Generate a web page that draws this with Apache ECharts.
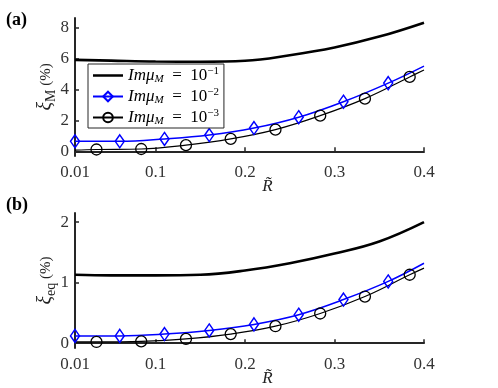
<!DOCTYPE html>
<html>
<head>
<meta charset="utf-8">
<script src="https://cdn.jsdelivr.net/npm/echarts@6/dist/echarts.min.js"></script>
<style>
  html, body { margin: 0; padding: 0; background: #fff; }
  #chart { width: 498px; height: 388px; }
</style>
</head>
<body>
<div id="chart"></div>
<script>
// x ticks shared by both panels
const xTicks = [0.01, 0.1, 0.2, 0.3, 0.4];
const yTicksA = [0, 2, 4, 6, 8];
const yTicksB = [0, 1, 2];

// thick black curve (Im mu = 1e-1), no markers
const thickX = [0.01, 0.05, 0.1, 0.15, 0.2, 0.25, 0.3, 0.35, 0.4];
const thickA = [5.9, 5.85, 5.79, 5.78, 5.84, 6.2, 6.7, 7.4, 8.3];
const thickB = [1.13, 1.12, 1.12, 1.13, 1.2, 1.32, 1.48, 1.68, 2.0];

// blue curve (Im mu = 1e-2), diamonds at these x
const blueX = [0.01, 0.06, 0.11, 0.16, 0.21, 0.26, 0.31, 0.36];
const blueA = [0.65, 0.65, 0.8, 1.05, 1.5, 2.2, 3.2, 4.4];
const blueB = [0.12, 0.12, 0.15, 0.21, 0.31, 0.47, 0.72, 1.02];
const blueEndA = 5.5;
const blueEndB = 1.32;

// thin black curve (Im mu = 1e-3), circles at these x
const circX = [0.034, 0.084, 0.134, 0.184, 0.234, 0.284, 0.334, 0.384];
const circA = [0.12, 0.15, 0.4, 0.8, 1.4, 2.3, 3.4, 4.8];
const circB = [0.02, 0.03, 0.07, 0.15, 0.28, 0.49, 0.77, 1.13];
const circStartA = 0.08, circEndA = 5.25;
const circStartB = 0.02, circEndB = 1.24;

const names = ['a', 'b', 'c'];
const serif = 'Liberation Serif';
const axisColor = '#262626';

function plain(xs, ys) {
    return xs.map((x, i) => [x, ys[i]]);
}
function withMarkers(xs, ys, start, end) {
    const d = [];
    if (start !== null) d.push({ value: [0.01, start], symbol: 'none' });
    xs.forEach((x, i) => d.push([x, ys[i]]));
    d.push({ value: [0.4, end], symbol: 'none' });
    return d;
}

function xAxis(idx) {
    return {
        type: 'value', gridIndex: idx, min: 0.01, max: 0.4,
        name: 'R\u0303', nameLocation: 'middle', nameGap: 22, nameMoveOverlap: false,
        nameTextStyle: { fontFamily: serif, fontStyle: 'italic', fontSize: 17, color: '#222', padding: [0, 0, 0, 36] },
        axisLine: { lineStyle: { color: axisColor, width: 2 } },
        axisTick: { inside: true, length: 4, customValues: xTicks, lineStyle: { color: axisColor, width: 1.5 } },
        axisLabel: { customValues: xTicks, fontFamily: serif, fontSize: 17, color: '#333', margin: 8 },
        splitLine: { show: false }
    };
}
function yAxis(idx, min, max, ticks, sub) {
    return {
        type: 'value', gridIndex: idx, min: min, max: max,
        name: '{xi|\u03be}{sub|' + sub + '}{n| (%)}', nameLocation: 'middle', nameRotate: 90,
        nameGap: 17, nameMoveOverlap: false,
        nameTextStyle: {
            color: '#222',
            rich: {
                xi: { fontFamily: serif, fontStyle: 'italic', fontSize: 20, lineHeight: 24, verticalAlign: 'middle', color: '#222' },
                sub: { fontFamily: serif, fontSize: 14, lineHeight: 12, verticalAlign: 'bottom', color: '#222' },
                n: { fontFamily: serif, fontSize: 15, lineHeight: 24, verticalAlign: 'middle', color: '#222' }
            }
        },
        axisLine: { lineStyle: { color: axisColor, width: 2 } },
        axisTick: { inside: true, length: 4, customValues: ticks, lineStyle: { color: axisColor, width: 1.5 } },
        axisLabel: { customValues: ticks, fontFamily: serif, fontSize: 17, color: '#333', margin: 6 },
        splitLine: { show: false }
    };
}

function seriesFor(idx, thick, blue, blueEnd, circ, circStart, circEnd) {
    return [
        {
            name: names[0], type: 'line', xAxisIndex: idx, yAxisIndex: idx, smooth: 0.4,
            symbol: 'none', data: plain(thickX, thick),
            lineStyle: { color: '#000', width: 2.6 }, itemStyle: { color: '#000' }
        },
        {
            name: names[1], type: 'line', xAxisIndex: idx, yAxisIndex: idx, smooth: 0.4,
            symbol: 'diamond', symbolSize: [9, 13], showAllSymbol: true,
            data: withMarkers(blueX, blue, null, blueEnd),
            lineStyle: { color: '#0000ff', width: 1.5 },
            itemStyle: { color: 'rgba(255,255,255,0)', borderColor: '#0000ff', borderWidth: 1.5 }
        },
        {
            name: names[2], type: 'line', xAxisIndex: idx, yAxisIndex: idx, smooth: 0.4,
            symbol: 'circle', symbolSize: 11, showAllSymbol: true,
            data: withMarkers(circX, circ, circStart, circEnd),
            lineStyle: { color: '#000', width: 1.2 },
            itemStyle: { color: 'rgba(255,255,255,0)', borderColor: '#000', borderWidth: 1.3 }
        }
    ];
}

const legendText = { a: '\u22121', b: '\u22122', c: '\u22123' };
// plain thick line icon; zero-area subpaths keep the full icon box
const thickIcon = 'path://M0,0L0.01,0M0,4.7H30V7.3H0ZM0,12L0.01,12';

const chart = echarts.init(document.getElementById('chart'));
chart.setOption({
    animation: false,
    backgroundColor: '#fff',
    grid: [
        { left: 75, right: 74, top: 18, height: 138 },
        { left: 75, right: 74, top: 213, height: 135 }
    ],
    xAxis: [xAxis(0), xAxis(1)],
    yAxis: [yAxis(0, -0.3, 8.6, yTicksA, 'M'), yAxis(1, -0.08, 2.15, yTicksB, 'eq')],
    legend: {
        data: [{ name: 'a', icon: thickIcon, itemStyle: { color: '#000', borderWidth: 0 } }, 'b', 'c'],
        orient: 'vertical', left: 88, top: 64,
        backgroundColor: '#fff', borderColor: axisColor, borderWidth: 1,
        padding: [2, 5, 1, 4], itemGap: 2, itemWidth: 30, itemHeight: 12,
        formatter: n => '{it|Im\u03bc}{sub|M}{n|  =  10}{sup|' + legendText[n] + '}',
        textStyle: {
            rich: {
                it: { fontFamily: serif, fontStyle: 'italic', fontSize: 17, lineHeight: 19, verticalAlign: 'middle', color: '#000' },
                sub: { fontFamily: serif, fontStyle: 'italic', fontSize: 11, lineHeight: 11, verticalAlign: 'bottom', color: '#000' },
                n: { fontFamily: serif, fontSize: 17, lineHeight: 19, verticalAlign: 'middle', color: '#000' },
                sup: { fontFamily: serif, fontSize: 11, lineHeight: 11, verticalAlign: 'top', color: '#000' }
            }
        }
    },
    graphic: [
        { type: 'text', left: 6, top: 11, style: { text: '(a)', font: 'bold 18px "Liberation Serif"', fill: '#000' } },
        { type: 'text', left: 6, top: 196, style: { text: '(b)', font: 'bold 18px "Liberation Serif"', fill: '#000' } }
    ],
    series: [
        ...seriesFor(0, thickA, blueA, blueEndA, circA, circStartA, circEndA),
        ...seriesFor(1, thickB, blueB, blueEndB, circB, circStartB, circEndB)
    ]
});
</script>
</body>
</html>
